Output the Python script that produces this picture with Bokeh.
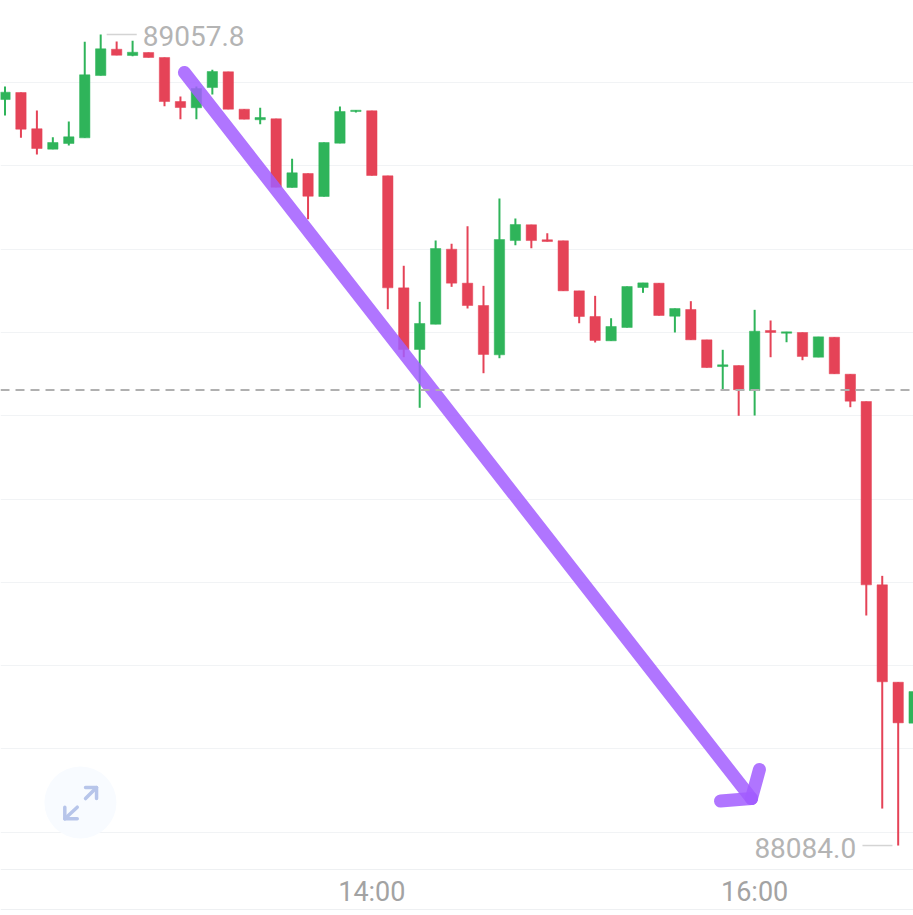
from bokeh.core.properties import value
from bokeh.embed import file_html
from bokeh.models import ColumnDataSource, FixedTicker, Grid, Range1d, Span
from bokeh.plotting import figure
from bokeh.resources import INLINE

# candles, index in 5-minute steps
opens = [88979.7, 88988.1, 88944.6, 88920.1, 88926.9, 88933.7, 89008.5, 89040.1, 89032.6, 89036.2,
         89030.2, 88977.3, 88969.8, 88994.1, 89013.0, 88968.1, 88955.4, 88956.6, 88874.1, 88890.9,
         88863.3, 88927.3, 88965.3, 88966.2, 88888.1, 88753.6, 88679.6, 88709.9, 88800.0, 88759.2,
         88732.4, 88673.2, 88810.4, 88829.3, 88811.3, 88810.1, 88750.0, 88719.2, 88690.0, 88706.0,
         88754.0, 88759.2, 88719.5, 88727.6, 88691.2, 88659.1, 88660.3, 88630.3, 88702.4, 88699.1,
         88700.0, 88670.3, 88694.3, 88649.9, 88617.1, 88397.0, 88280.1, 88230.9]
highs = [88995.3, 88988.1, 88966.5, 88934.5, 88953.3, 89049.0, 89057.8, 89049.4, 89050.2, 89036.2,
         89030.2, 88983.3, 88995.3, 89015.4, 89013.0, 88968.1, 88969.8, 88956.6, 88908.7, 88890.9,
         88928.1, 88971.3, 88966.9, 88966.2, 88888.1, 88780.1, 88736.8, 88810.4, 88806.5, 88827.6,
         88756.0, 88860.9, 88836.9, 88829.3, 88819.2, 88810.1, 88750.0, 88744.0, 88717.1, 88755.2,
         88759.6, 88759.2, 88728.8, 88737.6, 88691.2, 88679.2, 88660.3, 88727.2, 88714.4, 88700.8,
         88700.0, 88694.8, 88694.3, 88649.9, 88617.1, 88407.8, 88280.1, 88268.9]
lows = [88960.5, 88933.7, 88913.7, 88920.1, 88924.5, 88933.7, 89008.5, 89032.9, 89031.7, 89030.2,
        88971.7, 88956.1, 88956.1, 88985.7, 88968.1, 88956.1, 88950.1, 88874.4, 88874.1, 88836.0,
        88863.3, 88927.3, 88964.1, 88888.5, 88727.9, 88670.3, 88609.6, 88709.9, 88754.8, 88728.8,
        88651.1, 88669.1, 88804.8, 88801.2, 88809.2, 88750.0, 88711.1, 88688.0, 88690.0, 88706.0,
        88747.6, 88720.4, 88700.0, 88691.2, 88657.9, 88631.5, 88600.0, 88600.3, 88670.3, 88688.3,
        88666.7, 88670.3, 88650.4, 88610.3, 88360.2, 88128.4, 88084.0, 88230.9]
closes = [88988.5, 88944.1, 88920.9, 88928.1, 88934.9, 89009.4, 89040.6, 89032.9, 89036.5, 89030.2,
          88977.3, 88970.1, 88992.9, 89013.3, 88968.1, 88956.1, 88958.1, 88874.4, 88891.7, 88863.6,
          88928.1, 88965.3, 88966.9, 88888.5, 88753.6, 88679.6, 88710.8, 88800.8, 88759.2, 88732.4,
          88673.6, 88811.6, 88829.6, 88810.4, 88809.2, 88750.0, 88719.2, 88690.4, 88707.2, 88755.2,
          88759.6, 88720.4, 88728.8, 88691.2, 88657.9, 88661.2, 88631.2, 88701.5, 88700.0, 88700.8,
          88671.2, 88694.8, 88650.4, 88617.5, 88397.0, 88280.6, 88231.3, 88268.9]

x_ticks = [23, 47]
x_tick_labels = ["14:00", "16:00"]
grid_prices = [88100, 88200, 88300, 88400, 88500, 88600, 88700, 88800, 88900, 89000]
reference_price = 88630.9
axis_price = 88055.2
footer_price = 88007.2
y_min, y_max = 88000.0, 89098.6
x_min, x_max = -0.282, 56.96

high_label = "89057.8"
low_label = "88084.0"
high_index, low_index = 6, 56
high_value, low_value = 89057.8, 88084.0

# hand-drawn arrow (x index, price)
arrow_shaft_x, arrow_shaft_y = [11.25, 46.80], [89012.2, 88140.4]
arrow_left_x, arrow_left_y = [44.86, 46.80], [88137.5, 88140.4]
arrow_right_x, arrow_right_y = [47.30, 46.80], [88175.3, 88140.4]

# expand icon (x index, price)
icon_x, icon_y = [4.73], [88135.6]
icon_lines_x = [[5.05, 5.74], [5.05, 5.74, 5.74], [4.53, 3.75], [3.75, 3.75, 4.53]]
icon_lines_y = [[88140.4, 88153.7], [88153.7, 88153.7, 88140.4],
                [88130.0, 88116.1], [88130.0, 88116.1, 88116.1]]

GREEN = "#2fb45a"
RED = "#e54357"
FONT = "Roboto"

p = figure(width=913, height=915, output_backend="svg", toolbar_location=None,
           x_range=Range1d(x_min, x_max), y_range=Range1d(y_min, y_max),
           y_axis_location=None, min_border=0, min_border_left=0, min_border_right=0,
           min_border_top=0, min_border_bottom=0, background_fill_color="white",
           border_fill_color="white", outline_line_color=None)

p.xgrid.visible = False
p.ygrid.visible = False
p.add_layout(Grid(dimension=1, ticker=FixedTicker(ticks=grid_prices),
                  grid_line_color="#f1f3f5", grid_line_width=1))

ax = p.xaxis[0]
ax.ticker = FixedTicker(ticks=x_ticks)
ax.major_label_overrides = dict(zip(x_ticks, x_tick_labels))
ax.fixed_location = axis_price
ax.axis_line_color = "#eef0f2"
ax.major_tick_line_color = None
ax.major_tick_out = 0
ax.major_tick_in = 0
ax.minor_tick_line_color = None
ax.minor_tick_out = 0
ax.major_label_text_color = "#a3a3a3"
ax.major_label_text_font = FONT
ax.major_label_text_font_size = "27px"
ax.major_label_standoff = 6

p.add_layout(Span(location=footer_price, dimension="width", line_color="#eef0f2", line_width=1))

# expand icon
p.scatter(icon_x, icon_y, size=72, fill_color="#f8fbff", line_color=None)
p.multi_line(icon_lines_x, icon_lines_y, line_color="#b7c5ea", line_width=3.5,
             line_cap="round", line_join="round")

# candles
idx = list(range(len(opens)))
colors = [GREEN if c >= o else RED for o, c in zip(opens, closes)]
src = ColumnDataSource(dict(x=idx, o=opens, h=highs, l=lows, c=closes, color=colors))
p.segment("x", "h", "x", "l", source=src, line_color="color", line_width=2)
p.vbar("x", width=0.65, top="o", bottom="c", source=src, fill_color="color", line_color="color",
       line_width=0.5)

p.add_layout(Span(location=reference_price, dimension="width", line_color="#b0b0b0", line_width=2,
                  line_dash="9 6"))

# high / low labels
p.segment([high_index + 0.375], [high_value], [high_index + 2.26], [high_value],
          line_color="#d4d4d4", line_width=1.5)
p.segment([low_index - 2.24], [low_value], [low_index - 0.36], [low_value],
          line_color="#d4d4d4", line_width=1.5)
p.text([high_index], [high_value], text=[high_label], x_offset=42, y_offset=2,
       text_font=value(FONT), text_font_size="28px", text_color="#b4b4b4",
       text_align="left", text_baseline="middle")
p.text([low_index], [low_value], text=[low_label], x_offset=-42, y_offset=2,
       text_font=value(FONT), text_font_size="28px", text_color="#b4b4b4",
       text_align="right", text_baseline="middle")

# purple arrow
for xs, ys in [(arrow_shaft_x, arrow_shaft_y), (arrow_left_x, arrow_left_y), (arrow_right_x, arrow_right_y)]:
    p.line(xs, ys, line_color="#a25dff", line_alpha=0.85, line_width=13, line_cap="round")

open("out.html", "w").write(file_html(p, INLINE))
